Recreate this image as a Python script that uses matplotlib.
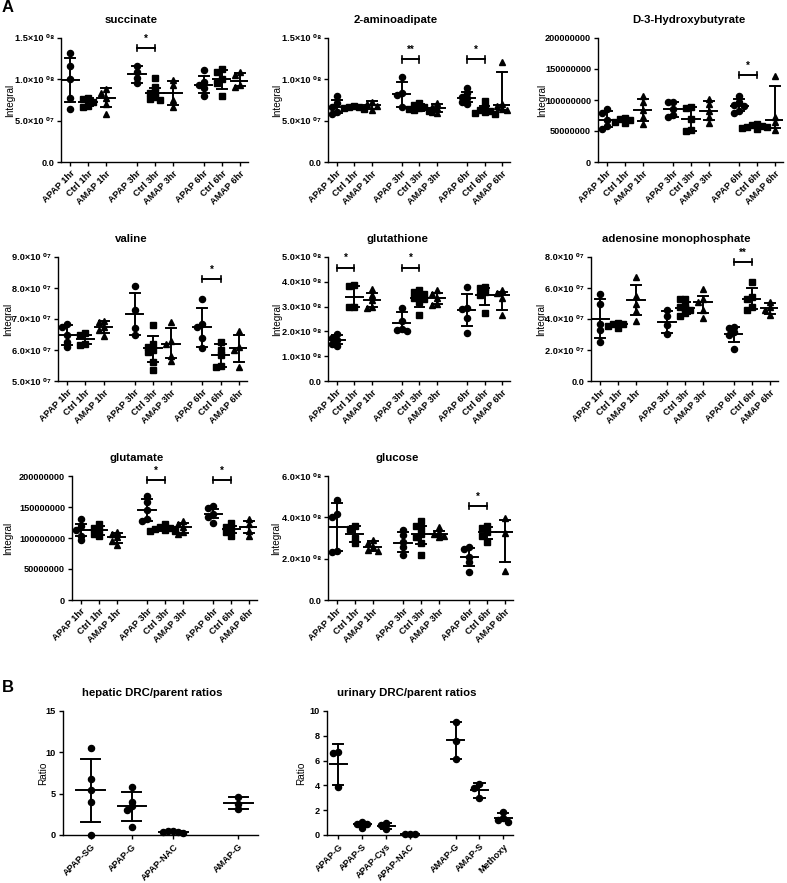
import numpy as np
import matplotlib
matplotlib.use("Agg")
import matplotlib.pyplot as plt

plt.rcParams["font.family"] = ["Liberation Sans", "DejaVu Sans"]

W, H = 787, 883

# ---- group layout -------------------------------------------------------
groups_a = ["APAP 1hr", "Ctrl 1hr", "AMAP 1hr",
            "APAP 3hr", "Ctrl 3hr", "AMAP 3hr",
            "APAP 6hr", "Ctrl 6hr", "AMAP 6hr"]
pos_a = [0, 1, 2, 3.7, 4.7, 5.7, 7.4, 8.4, 9.4]
markers_a = ["o", "s", "^"] * 3

groups_hep = ["APAP-SG", "APAP-G", "APAP-NAC", "AMAP-G"]
pos_hep = [0, 1, 2, 3.57]
groups_uri = ["APAP-G", "APAP-S", "APAP-Cys", "APAP-NAC", "AMAP-G", "AMAP-S", "Methoxy"]
pos_uri = [0, 1, 2, 3, 4.9, 5.9, 6.9]

# ---- succinate (x1e7) ---------------------------------------------------
succinate_pts = [[13.2, 11.6, 10.0, 7.7, 6.4], [7.7, 7.6, 7.3, 6.8, 6.7],
                 [8.8, 8.3, 7.8, 7.0, 5.8], [11.6, 10.9, 10.2, 9.5],
                 [10.2, 9.1, 8.5, 8.3, 7.9, 7.6, 7.5], [9.9, 9.3, 7.5, 6.7],
                 [11.1, 9.7, 9.3, 8.9, 8.0], [11.3, 10.9, 10.1, 9.6, 8.0],
                 [10.9, 10.5, 9.3, 9.1]]
succinate_mid = [9.9, 7.3, 7.8, 10.6, 8.3, 8.4, 9.3, 10.1, 9.8]
succinate_hi = [12.6, 7.7, 8.9, 11.6, 9.0, 9.8, 10.4, 11.1, 10.8]
succinate_lo = [7.2, 6.8, 6.6, 9.5, 7.6, 6.9, 8.3, 8.8, 9.2]
succinate_sig = [(3, 4, 13.8, "*")]

# ---- 2-aminoadipate (x1e7) ----------------------------------------------
amino_pts = [[8.0, 7.1, 6.6, 6.1, 5.8], [6.8, 6.7, 6.6, 6.5, 6.4],
             [7.3, 7.0, 6.8, 6.3], [10.3, 8.3, 8.1, 6.6],
             [7.1, 6.9, 6.6, 6.5, 6.4, 6.3, 6.2], [7.1, 6.6, 6.5, 6.0, 5.9],
             [8.9, 8.3, 7.9, 7.7, 7.2, 7.0], [7.4, 6.6, 6.3, 6.2, 6.0, 5.9, 5.8],
             [12.1, 7.0, 6.8, 6.4, 6.3]]
amino_mid = [6.6, 6.6, 6.9, 8.2, 6.5, 6.5, 7.8, 6.2, 6.9]
amino_hi = [7.5, 6.75, 7.4, 9.7, 7.0, 7.0, 8.5, 6.8, 10.9]
amino_lo = [5.9, 6.45, 6.4, 6.6, 6.2, 6.0, 7.2, 5.9, 6.3]
amino_sig = [(3, 4, 12.4, "**"), (6, 7, 12.4, "*")]

# ---- D-3-Hydroxybutyrate (x1e6) -----------------------------------------
hydroxy_pts = [[86, 79, 68, 58, 54], [71, 69, 67, 65, 63],
               [107, 97, 84, 72, 61], [97, 96, 85, 75, 72],
               [89, 87, 70, 51, 50], [102, 94, 83, 72, 63],
               [107, 97, 92, 91, 83, 79], [62, 60, 58, 57, 56, 55, 54],
               [138, 72, 64, 52]]
hydroxy_mid = [68, 67, 84, 85, 70, 83, 91, 57, 68]
hydroxy_hi = [82, 70, 102, 97, 88, 98, 102, 60, 122]
hydroxy_lo = [57, 64, 66, 73, 50, 68, 82, 55, 55]
hydroxy_sig = [(6, 7, 140, "*")]

# ---- valine (x1e7) -------------------------------------------------------
valine_pts = [[6.85, 6.75, 6.5, 6.25, 6.1], [6.55, 6.5, 6.2, 6.15],
              [6.95, 6.9, 6.75, 6.65, 6.45], [8.05, 7.3, 6.7, 6.5],
              [6.8, 6.2, 6.1, 6.0, 5.95, 5.6, 5.35], [6.9, 6.3, 6.2, 5.8, 5.65],
              [7.65, 6.85, 6.75, 6.4, 6.05], [6.25, 6.0, 5.85, 5.5, 5.45],
              [6.6, 6.1, 6.0, 5.45]]
valine_mid = [6.5, 6.35, 6.75, 7.15, 6.05, 6.2, 6.75, 5.85, 6.05]
valine_hi = [6.8, 6.5, 6.95, 7.85, 6.45, 6.7, 7.35, 6.2, 6.5]
valine_lo = [6.15, 6.2, 6.55, 6.5, 5.6, 5.75, 6.1, 5.45, 5.6]
valine_sig = [(6, 7, 8.28, "*")]

# ---- glutathione (x1e8) --------------------------------------------------
gsh_pts = [[1.9, 1.75, 1.65, 1.5, 1.4], [3.88, 3.82, 3.0, 2.98],
           [3.7, 3.45, 3.25, 3.0, 2.95], [2.95, 2.4, 2.1, 2.05, 2.0],
           [3.65, 3.6, 3.5, 3.4, 3.35, 3.3, 3.2, 2.65], [3.65, 3.5, 3.35, 3.1, 3.05],
           [3.8, 2.95, 2.9, 2.55, 1.95], [3.8, 3.75, 3.6, 3.45, 2.75],
           [3.65, 3.55, 3.35, 2.65]]
gsh_mid = [1.65, 3.4, 3.25, 2.35, 3.35, 3.35, 2.85, 3.45, 3.45]
gsh_hi = [1.85, 3.85, 3.55, 2.8, 3.55, 3.55, 3.5, 3.75, 3.6]
gsh_lo = [1.5, 3.0, 3.0, 2.0, 3.0, 3.1, 2.2, 3.05, 2.85]
gsh_sig = [(0, 1, 4.57, "*"), (3, 4, 4.57, "*")]

# ---- adenosine monophosphate (x1e7) --------------------------------------
amp_pts = [[5.6, 5.0, 3.7, 3.3, 2.5], [3.75, 3.7, 3.65, 3.55, 3.45],
           [6.7, 5.5, 5.0, 4.5, 3.9], [4.6, 4.2, 3.6, 3.05],
           [5.3, 5.3, 5.0, 4.8, 4.7, 4.6, 4.4, 4.2], [5.95, 5.3, 5.1, 4.6, 4.05],
           [3.5, 3.45, 3.15, 2.95, 2.05], [6.4, 5.4, 5.3, 4.8, 4.55],
           [5.1, 4.8, 4.6, 4.25]]
amp_mid = [4.0, 3.65, 5.25, 3.8, 4.7, 5.1, 3.05, 5.3, 4.7]
amp_hi = [5.3, 3.75, 6.2, 4.5, 5.1, 5.5, 3.5, 6.0, 5.05]
amp_lo = [2.75, 3.5, 4.25, 3.1, 4.3, 4.4, 2.5, 4.65, 4.35]
amp_sig = [(6, 7, 7.68, "**")]

# ---- glutamate (x1e6) ----------------------------------------------------
glutamate_pts = [[130, 120, 113, 104, 96], [123, 116, 113, 106, 104],
                 [110, 106, 101, 95, 88], [167, 158, 145, 130, 128],
                 [122, 118, 116, 115, 113, 112, 111], [128, 122, 118, 110, 106],
                 [151, 148, 139, 134, 125], [124, 118, 115, 110, 104],
                 [131, 123, 112, 104]]
glutamate_mid = [113, 113, 101, 145, 115, 118, 139, 115, 118]
glutamate_hi = [122, 120, 108, 163, 118, 125, 147, 120, 128]
glutamate_lo = [104, 105, 92, 128, 112, 108, 132, 108, 108]
glutamate_sig = [(3, 4, 193.5, "*"), (6, 7, 193.5, "*")]

# ---- glucose (x1e8) ------------------------------------------------------
glucose_pts = [[4.85, 4.15, 4.0, 2.37, 2.33], [3.58, 3.45, 3.0, 2.75],
               [2.9, 2.75, 2.55, 2.4, 2.35], [3.4, 3.15, 2.8, 2.55, 2.2],
               [3.8, 3.6, 3.5, 3.2, 3.05, 2.75, 2.2], [3.55, 3.3, 3.2, 3.1, 3.05],
               [2.55, 2.45, 2.1, 1.85, 1.35], [3.6, 3.5, 3.3, 3.1, 2.8],
               [3.95, 3.25, 1.4]]
glucose_mid = [3.55, 3.2, 2.55, 2.75, 3.2, 3.2, 2.1, 3.3, 3.27]
glucose_hi = [4.7, 3.6, 2.85, 3.3, 3.6, 3.35, 2.5, 3.55, 3.85]
glucose_lo = [2.35, 2.8, 2.35, 2.3, 2.7, 3.05, 1.65, 2.95, 1.85]
glucose_sig = [(6, 7, 4.53, "*")]

# ---- B: DRC/parent ratios ------------------------------------------------
hep_pts = [[10.5, 6.8, 5.5, 4.05, 0.0], [5.85, 4.05, 3.45, 3.0, 1.0],
           [0.45, 0.45, 0.4, 0.35, 0.3], [4.6, 3.75, 3.1]]
hep_mid = [5.4, 3.5, 0.4, 3.9]
hep_hi = [9.2, 5.2, 0.5, 4.6]
hep_lo = [1.6, 1.75, 0.3, 3.15]

uri_pts = [[6.7, 6.6, 3.85], [1.05, 0.9, 0.85, 0.6], [0.95, 0.8, 0.45],
           [0.12, 0.1, 0.08], [9.1, 7.6, 6.15], [4.1, 3.8, 2.95],
           [1.85, 1.35, 1.2, 1.05]]
uri_mid = [5.7, 0.85, 0.7, 0.1, 7.65, 3.6, 1.4]
uri_hi = [7.3, 1.0, 0.95, 0.12, 9.15, 4.2, 1.75]
uri_lo = [4.05, 0.7, 0.5, 0.08, 6.15, 3.0, 1.1]


SUP = str.maketrans("0123456789", "⁰¹²³⁴⁵⁶⁷⁸⁹")


def sci_label(v):
    if v == 0:
        return "0.0"
    e = int(np.floor(np.log10(v)))
    m = v / 10 ** e
    return f"{m:.1f}×10 " + f"{e:02d}".translate(SUP)


def int_label(v):
    return f"{int(round(v))}"


fig = plt.figure(figsize=(W / 100, H / 100), dpi=100)


def add_axes(l, t, r, b):
    return fig.add_axes([l / W, 1 - b / H, (r - l) / W, (b - t) / H])


def spread(ax, x0, vals, step=5.0):
    # simple swarm: push overlapping points sideways, like Prism does
    tr = ax.transData
    placed, xs = [], []
    for v in vals:
        px, py = tr.transform((x0, v))
        for k in [0, -1, 1, -2, 2, -3, 3]:
            cx = px + k * step
            if all((cx - qx) ** 2 + (py - qy) ** 2 >= (step * 0.9) ** 2 for qx, qy in placed):
                break
        placed.append((cx, py))
        xs.append(tr.inverted().transform((cx, py))[0])
    return xs


def panel(box, title, title_cx, ylab, ylab_x, pts, mid, lo, hi, unit, ylim, yticks,
          fmt, pos, labels, markers, xlim, mean_hw, cap_hw, sig=()):
    l, t, r, b = box
    ax = add_axes(l, t, r, b)
    ax.set_xlim(*xlim)
    ax.set_ylim(*ylim)
    for sp in ["top", "right"]:
        ax.spines[sp].set_visible(False)
    for sp in ["left", "bottom"]:
        ax.spines[sp].set_linewidth(1.0)

    for i, x in enumerate(pos):
        xs = spread(ax, x, pts[i])
        ax.plot(xs, pts[i], ls="none", marker=markers[i], ms=4.4, color="black",
                clip_on=False, zorder=3)
        ax.plot([x, x], [lo[i], hi[i]], color="black", lw=1.4, zorder=4)
        ax.plot([x - cap_hw, x + cap_hw], [hi[i], hi[i]], color="black", lw=1.4, zorder=4)
        ax.plot([x - cap_hw, x + cap_hw], [lo[i], lo[i]], color="black", lw=1.4, zorder=4)
        ax.plot([x - mean_hw, x + mean_hw], [mid[i], mid[i]], color="black", lw=1.4, zorder=4)

    yr = ylim[1] - ylim[0]
    for i, j, y, star in sig:
        x1, x2 = pos[i], pos[j]
        ax.plot([x1, x2], [y, y], color="black", lw=1.4)
        for xx in (x1, x2):
            ax.plot([xx, xx], [y - 0.025 * yr, y + 0.025 * yr], color="black", lw=1.2)
        ax.text((x1 + x2) / 2, y + 0.035 * yr, star, ha="center", va="bottom",
                fontsize=7, fontweight="bold")

    ax.set_xticks(pos)
    ax.set_xticklabels(labels, rotation=45, ha="right", rotation_mode="anchor",
                       fontsize=6.6, fontweight="bold")
    ax.set_yticks(yticks)
    ax.set_yticklabels([fmt(v * unit) for v in yticks], fontsize=6.6, fontweight="bold")
    ax.tick_params(direction="out", length=3, width=1.0, pad=2)

    fig.text(title_cx / W, 1 - (t - 18) / H, title, ha="center", va="center",
             fontsize=8.2, fontweight="bold")
    fig.text(ylab_x / W, 1 - ((t + b) / 2) / H, ylab, ha="center", va="center",
             rotation=90, fontsize=7.2)
    return ax


xlim_a = (-0.5, 9.85)
a_args = dict(pos=pos_a, labels=groups_a, markers=markers_a, xlim=xlim_a,
              mean_hw=0.48, cap_hw=0.28)

# row 1
panel((61, 38, 248, 162), "succinate", 131, "Integral", 10,
      succinate_pts, succinate_mid, succinate_lo, succinate_hi, 1e7,
      (0, 15), [0, 5, 10, 15], sci_label, sig=succinate_sig, **a_args)
panel((328, 38, 510, 162), "2-aminoadipate", 396, "Integral", 277,
      amino_pts, amino_mid, amino_lo, amino_hi, 1e7,
      (0, 15), [0, 5, 10, 15], sci_label, sig=amino_sig, **a_args)
panel((598, 38, 783, 162), "D-3-Hydroxybutyrate", 689, "Integral", 542,
      hydroxy_pts, hydroxy_mid, hydroxy_lo, hydroxy_hi, 1e6,
      (0, 200), [0, 50, 100, 150, 200], int_label, sig=hydroxy_sig, **a_args)

# row 2
panel((58, 257, 247, 381), "valine", 131, "Integral", 8,
      valine_pts, valine_mid, valine_lo, valine_hi, 1e7,
      (5, 9), [5, 6, 7, 8, 9], sci_label, sig=valine_sig, **a_args)
panel((328, 257, 510, 381), "glutathione", 397, "Integral", 277,
      gsh_pts, gsh_mid, gsh_lo, gsh_hi, 1e8,
      (0, 5), [0, 1, 2, 3, 4, 5], sci_label, sig=gsh_sig, **a_args)
panel((591, 257, 778, 381), "adenosine monophosphate", 676, "Integral", 541,
      amp_pts, amp_mid, amp_lo, amp_hi, 1e7,
      (0, 8), [0, 2, 4, 6, 8], sci_label, sig=amp_sig, **a_args)

# row 3
panel((72, 476, 257, 600), "glutamate", 137, "Integral", 8,
      glutamate_pts, glutamate_mid, glutamate_lo, glutamate_hi, 1e6,
      (0, 200), [0, 50, 100, 150, 200], int_label, sig=glutamate_sig, **a_args)
panel((328, 476, 513, 600), "glucose", 397, "Integral", 276,
      glucose_pts, glucose_mid, glucose_lo, glucose_hi, 1e8,
      (0, 6), [0, 2, 4, 6], sci_label, sig=glucose_sig, **a_args)

# B
panel((63, 711, 258, 835), "hepatic DRC/parent ratios", 152, "Ratio", 43,
      hep_pts, hep_mid, hep_lo, hep_hi, 1,
      (0, 15), [0, 5, 10, 15], int_label, pos=pos_hep, labels=groups_hep,
      markers=["o"] * 4, xlim=(-0.67, 4.05), mean_hw=0.35, cap_hw=0.23)
panel((327, 711, 513, 835), "urinary DRC/parent ratios", 407, "Ratio", 301,
      uri_pts, uri_mid, uri_lo, uri_hi, 1,
      (0, 10), [0, 2, 4, 6, 8, 10], int_label, pos=pos_uri, labels=groups_uri,
      markers=["o"] * 7, xlim=(-0.47, 7.3), mean_hw=0.36, cap_hw=0.21)

fig.text(8 / W, 1 - 8 / H, "A", ha="center", va="center", fontsize=12, fontweight="bold")
fig.text(8 / W, 1 - 688 / H, "B", ha="center", va="center", fontsize=12, fontweight="bold")

fig.savefig("out.png", dpi=100)
